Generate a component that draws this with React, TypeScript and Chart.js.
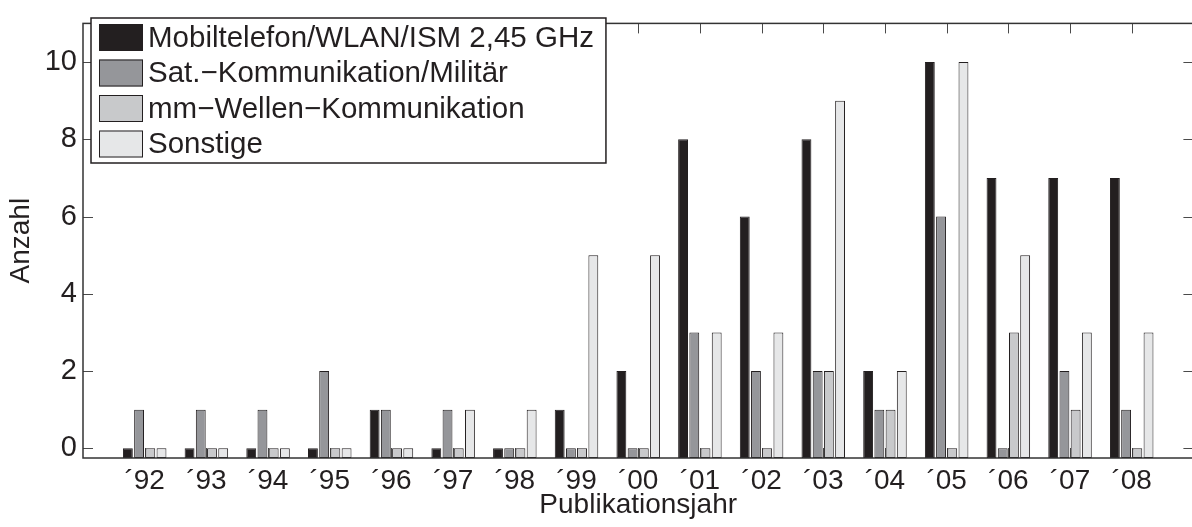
import React, { useEffect, useRef } from "react";
import { Chart, registerables } from "chart.js";

Chart.register(...registerables);

// ---- data ----
const categories = ["´92", "´93", "´94", "´95", "´96", "´97", "´98", "´99", "´00", "´01", "´02", "´03", "´04", "´05", "´06", "´07", "´08"];
const seriesNames = [
  "Mobiltelefon/WLAN/ISM 2,45 GHz",
  "Sat.−Kommunikation/Militär",
  "mm−Wellen−Kommunikation",
  "Sonstige",
];
const mobil = [0, 0, 0, 0, 1, 0, 0, 1, 2, 8, 6, 8, 2, 10, 7, 7, 7];
const satMil = [1, 1, 1, 2, 1, 1, 0, 0, 0, 3, 2, 2, 1, 6, 0, 2, 1];
const mmWellen = [0, 0, 0, 0, 0, 0, 0, 0, 0, 0, 0, 2, 1, 0, 3, 1, 0];
const sonstige = [0, 0, 0, 0, 0, 1, 1, 5, 5, 3, 3, 9, 2, 10, 5, 3, 3];
const yTickValues = [0, 2, 4, 6, 8, 10];
const yMin = -0.25;
const yMax = 11;

const colors = ["#231f20", "#95969a", "#c8c9cb", "#e6e7e8"];
const edge = "#231f20";
const textColor = "#231f20";
const FONT = "'Liberation Sans', Arial, Helvetica, sans-serif";

export default function App() {
  const ref = useRef<HTMLCanvasElement | null>(null);

  useEffect(() => {
    const canvas = ref.current;
    if (!canvas) return;

    const labels = ["", ...categories, ""];
    const pad = (arr: number[]) => [null, ...arr, null];
    const seriesData = [mobil, satMil, mmWellen, sonstige];

    const framePlugin = {
      id: "matlabFrame",
      beforeDatasetsDraw(chart: any) {
        const { ctx, chartArea } = chart;
        const { left, right, top, bottom } = chartArea;
        const y = chart.scales.y;
        const x = chart.scales.x;
        ctx.save();
        ctx.strokeStyle = "#4a4a4a";
        ctx.lineWidth = 1;
        ctx.beginPath();
        yTickValues.forEach((v) => {
          const py = Math.round(y.getPixelForValue(v)) + 0.5;
          ctx.moveTo(left, py);
          ctx.lineTo(left + 10, py);
          ctx.moveTo(right - 10, py);
          ctx.lineTo(right, py);
        });
        for (let i = 1; i <= categories.length; i++) {
          const px = Math.round(x.getPixelForValue(i)) + 0.5;
          ctx.moveTo(px, top);
          ctx.lineTo(px, top + 10);
          ctx.moveTo(px, bottom);
          ctx.lineTo(px, bottom - 10);
        }
        ctx.stroke();
        ctx.restore();
      },
      afterDatasetsDraw(chart: any) {
        const { ctx, chartArea } = chart;
        const { left, right, top, bottom } = chartArea;
        ctx.save();
        ctx.strokeStyle = "#333333";
        ctx.lineWidth = 1.5;
        ctx.strokeRect(left, top, right - left, bottom - top);
        ctx.restore();
      },
    };

    const legendPlugin = {
      id: "matlabLegend",
      afterDraw(chart: any) {
        const { ctx } = chart;
        const bx = 91;
        const by = 18;
        const rowH = 35.5;
        const swW = 44;
        const swH = 27;
        ctx.save();
        ctx.font = `29.5px ${FONT}`;
        let maxW = 0;
        seriesNames.forEach((n) => {
          maxW = Math.max(maxW, ctx.measureText(n).width);
        });
        const bw = 8 + swW + 5 + maxW + 12;
        const bh = 145;
        ctx.fillStyle = "#ffffff";
        ctx.fillRect(bx, by, bw, bh);
        ctx.strokeStyle = edge;
        ctx.lineWidth = 1.5;
        ctx.strokeRect(bx, by, bw, bh);
        chart.data.datasets.forEach((ds: any, i: number) => {
          const sy = by + 6 + i * rowH;
          ctx.fillStyle = ds.backgroundColor;
          ctx.fillRect(bx + 8, sy, swW, swH);
          ctx.lineWidth = 1;
          ctx.strokeStyle = edge;
          ctx.strokeRect(bx + 8.5, sy + 0.5, swW - 1, swH - 1);
          ctx.fillStyle = textColor;
          ctx.textBaseline = "middle";
          ctx.textAlign = "left";
          ctx.fillText(ds.label, bx + 8 + swW + 5, sy + swH / 2 + 1);
        });
        ctx.restore();
      },
    };

    const chart = new Chart(canvas, {
      type: "bar",
      data: {
        labels,
        datasets: seriesData.map((arr, i) => ({
          label: seriesNames[i],
          data: pad(arr),
          backgroundColor: colors[i],
          borderColor: edge,
          borderWidth: 1,
          borderSkipped: false,
          base: yMin,
          categoryPercentage: 0.727,
          barPercentage: 0.88,
        })),
      },
      options: {
        animation: false,
        responsive: false,
        devicePixelRatio: 1,
        layout: { padding: { left: 0, top: 10, right: 6.6, bottom: 0 } },
        plugins: {
          legend: { display: false },
          tooltip: { enabled: false },
        },
        scales: {
          x: {
            type: "category",
            offset: false,
            grid: { display: false, drawTicks: false },
            border: { display: false },
            ticks: {
              autoSkip: false,
              maxRotation: 0,
              minRotation: 0,
              padding: 6,
              color: textColor,
              font: { size: 28, family: FONT },
            },
            title: {
              display: true,
              text: "Publikationsjahr",
              color: textColor,
              font: { size: 28, family: FONT },
              padding: { top: 0, bottom: 5 },
            },
            afterFit(scale: any) {
              scale.height = 69;
            },
          },
          y: {
            type: "linear",
            min: yMin,
            max: yMax,
            grid: { display: false, drawTicks: false },
            border: { display: false },
            afterBuildTicks(scale: any) {
              scale.ticks = yTickValues.map((v) => ({ value: v }));
            },
            ticks: {
              padding: 6,
              color: textColor,
              font: { size: 29, family: FONT },
            },
            title: {
              display: true,
              text: "Anzahl",
              color: textColor,
              font: { size: 28, family: FONT },
              padding: { top: 4, bottom: 0 },
            },
            afterFit(scale: any) {
              scale.width = 83;
            },
          },
        },
      },
      plugins: [framePlugin, legendPlugin],
    } as any);

    return () => chart.destroy();
  }, []);

  return (
    <div
      style={{
        position: "fixed",
        left: 0,
        top: 0,
        width: 1192,
        height: 527,
        overflow: "hidden",
        background: "#ffffff",
      }}
    >
      <canvas ref={ref} width={1200} height={527} style={{ display: "block", width: 1200, height: 527 }} />
    </div>
  );
}
